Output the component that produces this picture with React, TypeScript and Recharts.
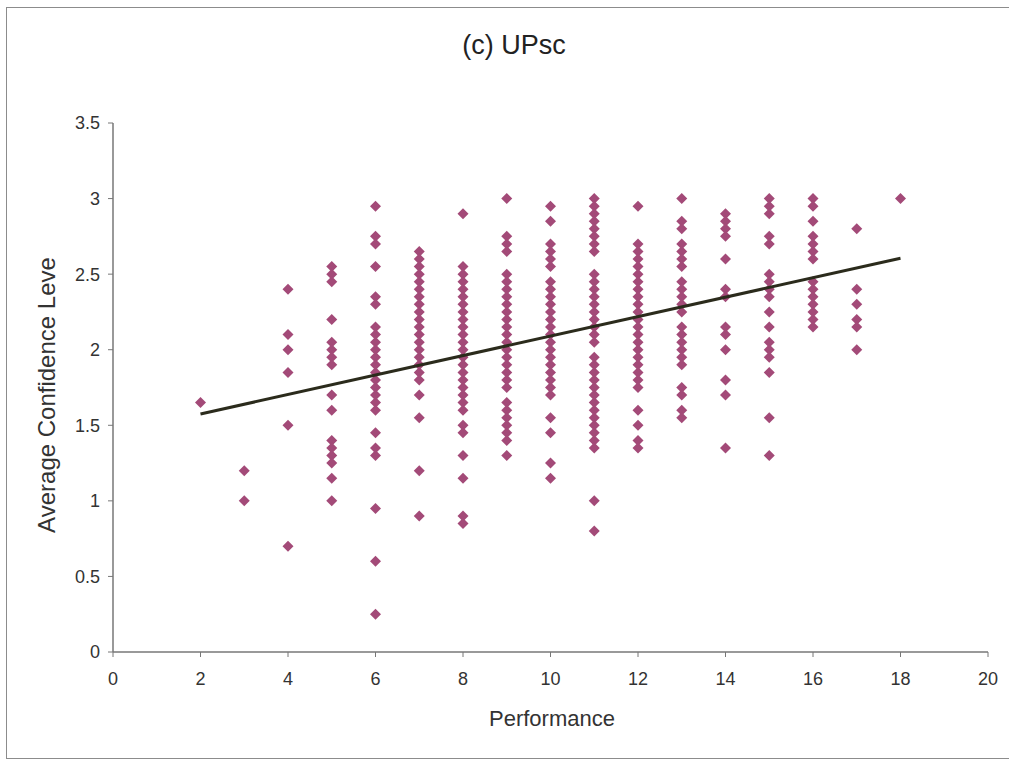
import React from "react";
import { ScatterChart, Scatter, XAxis, YAxis } from "recharts";

const performance = [2, 3, 4, 5, 6, 7, 8, 9, 10, 11, 12, 13, 14, 15, 16, 17, 18];

const conf2 = [1.65];
const conf3 = [1.2, 1.0];
const conf4 = [2.4, 2.1, 2.0, 1.85, 1.5, 0.7];
const conf5 = [2.55, 2.5, 2.45, 2.2, 2.05, 2.0, 1.95, 1.9, 1.7, 1.6, 1.4, 1.35, 1.3, 1.25, 1.15, 1.0];
const conf6 = [2.95, 2.75, 2.7, 2.55, 2.35, 2.3, 2.15, 2.1, 2.05, 2.0, 1.95, 1.9, 1.85, 1.8, 1.75, 1.7, 1.65, 1.6, 1.45, 1.35, 1.3, 0.95, 0.6, 0.25];
const conf7 = [2.65, 2.6, 2.55, 2.5, 2.45, 2.4, 2.35, 2.3, 2.25, 2.2, 2.15, 2.1, 2.05, 2.0, 1.95, 1.9, 1.85, 1.8, 1.7, 1.55, 1.2, 0.9];
const conf8 = [2.9, 2.55, 2.5, 2.45, 2.4, 2.35, 2.3, 2.25, 2.2, 2.15, 2.1, 2.05, 2.0, 1.95, 1.9, 1.85, 1.8, 1.75, 1.7, 1.65, 1.6, 1.5, 1.45, 1.3, 1.15, 0.9, 0.85];
const conf9 = [3.0, 2.75, 2.7, 2.65, 2.5, 2.45, 2.4, 2.35, 2.3, 2.25, 2.2, 2.15, 2.1, 2.05, 2.0, 1.95, 1.9, 1.85, 1.8, 1.75, 1.65, 1.6, 1.55, 1.5, 1.45, 1.4, 1.3];
const conf10 = [2.95, 2.85, 2.7, 2.65, 2.6, 2.55, 2.45, 2.4, 2.35, 2.3, 2.25, 2.2, 2.15, 2.1, 2.05, 2.0, 1.95, 1.9, 1.85, 1.8, 1.75, 1.7, 1.55, 1.45, 1.25, 1.15];
const conf11 = [3.0, 2.95, 2.9, 2.85, 2.8, 2.75, 2.7, 2.65, 2.5, 2.45, 2.4, 2.35, 2.3, 2.25, 2.2, 2.15, 2.1, 2.05, 1.95, 1.9, 1.85, 1.8, 1.75, 1.7, 1.65, 1.6, 1.55, 1.5, 1.45, 1.4, 1.35, 1.0, 0.8];
const conf12 = [2.95, 2.7, 2.65, 2.6, 2.55, 2.5, 2.45, 2.4, 2.35, 2.3, 2.25, 2.2, 2.15, 2.1, 2.05, 2.0, 1.95, 1.9, 1.85, 1.8, 1.75, 1.6, 1.5, 1.4, 1.35];
const conf13 = [3.0, 2.85, 2.8, 2.7, 2.65, 2.6, 2.55, 2.45, 2.4, 2.35, 2.3, 2.25, 2.15, 2.1, 2.05, 2.0, 1.95, 1.9, 1.75, 1.7, 1.6, 1.55];
const conf14 = [2.9, 2.85, 2.8, 2.75, 2.6, 2.4, 2.35, 2.15, 2.1, 2.0, 1.8, 1.7, 1.35];
const conf15 = [3.0, 2.95, 2.9, 2.75, 2.7, 2.5, 2.45, 2.4, 2.35, 2.25, 2.15, 2.05, 2.0, 1.95, 1.85, 1.55, 1.3];
const conf16 = [3.0, 2.95, 2.85, 2.75, 2.7, 2.65, 2.6, 2.45, 2.4, 2.35, 2.3, 2.25, 2.2, 2.15];
const conf17 = [2.8, 2.4, 2.3, 2.2, 2.15, 2.0];
const conf18 = [3.0];

const confidenceByPerformance = [
  conf2, conf3, conf4, conf5, conf6, conf7, conf8, conf9, conf10,
  conf11, conf12, conf13, conf14, conf15, conf16, conf17, conf18,
];

const trendX = [2, 18];
const trendY = [1.575, 2.605];

const xTicks = [0, 2, 4, 6, 8, 10, 12, 14, 16, 18, 20];
const yTicks = [0, 0.5, 1, 1.5, 2, 2.5, 3, 3.5];

const points = performance.flatMap((p, i) =>
  confidenceByPerformance[i].map((c) => ({ x: p, y: c }))
);
const trendData = trendX.map((x, i) => ({ x, y: trendY[i] }));

const FONT = "'Liberation Sans', Arial, sans-serif";
const MARK = "#a34a78";

const Diamond = (props: any) => {
  const { cx, cy } = props;
  if (cx == null || cy == null) return <g />;
  const r = 5.5;
  return (
    <polygon
      points={`${cx},${cy - r} ${cx + r},${cy} ${cx},${cy + r} ${cx - r},${cy}`}
      fill={MARK}
    />
  );
};

const NoShape = () => <g />;

export default function App() {
  return (
    <div style={{ position: "absolute", left: 0, top: 0, width: 1009, height: 761, background: "#fff", overflow: "hidden", fontFamily: FONT }}>
      <div style={{ position: "absolute", left: 6, top: 7, width: 1010, height: 752, border: "1px solid #8c8c8c", boxSizing: "border-box" }} />
      <ScatterChart
        width={1009}
        height={761}
        margin={{ top: 123, right: 21, bottom: 79, left: 53 }}
        style={{ position: "absolute", left: 0, top: 0 }}
      >
        <XAxis
          type="number"
          dataKey="x"
          domain={[0, 20]}
          ticks={xTicks}
          height={30}
          tickSize={5}
          tickMargin={15}
          axisLine={{ stroke: "#777", strokeWidth: 1.5 }}
          tickLine={{ stroke: "#777" }}
          tick={{ fill: "#333", fontSize: 18, fontFamily: FONT }}
          interval={0}
        />
        <YAxis
          type="number"
          dataKey="y"
          domain={[0, 3.5]}
          ticks={yTicks}
          width={60}
          tickSize={5}
          tickMargin={8}
          axisLine={{ stroke: "#777", strokeWidth: 1.5 }}
          tickLine={{ stroke: "#777" }}
          tick={{ fill: "#333", fontSize: 18, fontFamily: FONT }}
          interval={0}
        />
        <Scatter data={points} shape={Diamond} isAnimationActive={false} />
        <Scatter
          data={trendData}
          shape={NoShape}
          line={{ stroke: "#2b2b1c", strokeWidth: 3 }}
          isAnimationActive={false}
        />
      </ScatterChart>
      <div
        style={{
          position: "absolute",
          left: 514,
          top: 45,
          transform: "translate(-50%, -50%)",
          whiteSpace: "nowrap",
          fontSize: 27,
          color: "#222",
        }}
      >
        (c) UPsc
      </div>
      <div
        style={{
          position: "absolute",
          left: 552,
          top: 719,
          transform: "translate(-50%, -50%)",
          whiteSpace: "nowrap",
          fontSize: 22,
          color: "#333",
        }}
      >
        Performance
      </div>
      <div
        style={{
          position: "absolute",
          left: 47,
          top: 395,
          transform: "translate(-50%, -50%) rotate(-90deg)",
          whiteSpace: "nowrap",
          fontSize: 24,
          color: "#333",
        }}
      >
        Average Confidence Leve
      </div>
    </div>
  );
}
